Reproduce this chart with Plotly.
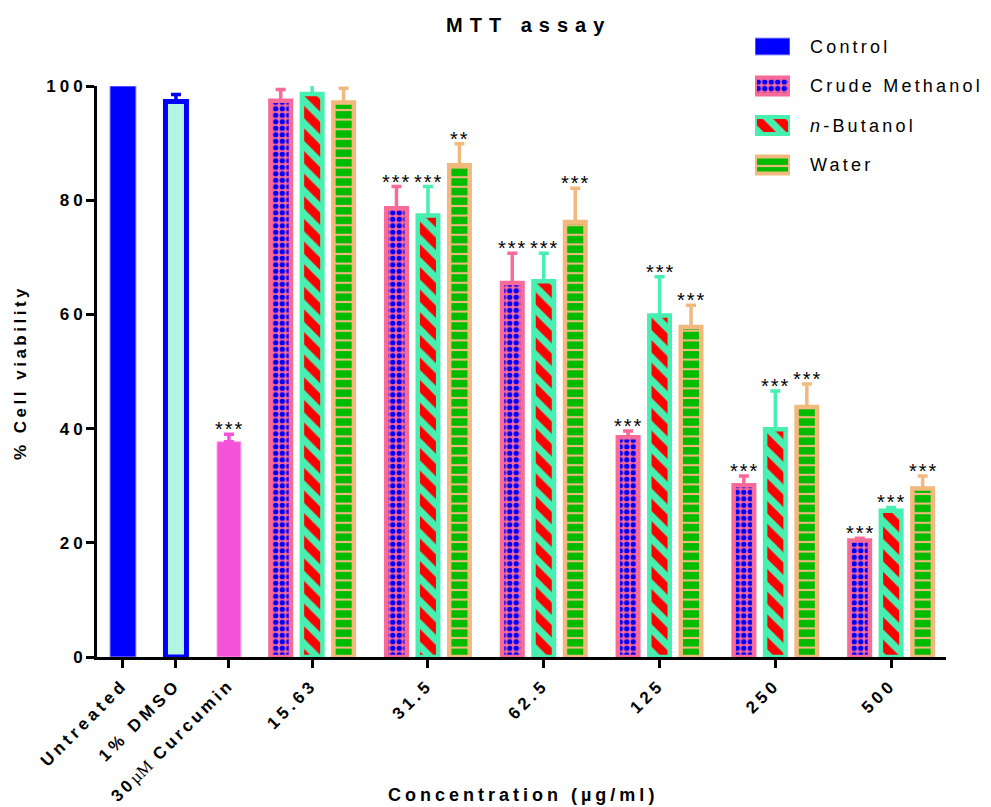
import plotly.graph_objects as go

# ---- data -------------------------------------------------------------
concentrations = ["15.63", "31.5", "62.5", "125", "250", "500"]
reference_labels = ["Untreated", "1% DMSO", "30µM Curcumin"]

untreated = 100.0
dmso, dmso_err = 97.3, 1.2
curcumin, curcumin_err = 37.7, 1.3
curcumin_sig = "***"

crude = [97.4, 78.6, 65.5, 38.5, 30.1, 20.4]
crude_err = [2.0, 3.8, 5.2, 1.1, 1.6, 0.4]
crude_sig = ["", "***", "***", "***", "***", "***"]

butanol = [98.6, 77.3, 65.8, 59.8, 39.9, 25.6]
butanol_err = [1.7, 5.1, 4.9, 6.8, 6.7, 0.6]
butanol_sig = ["", "***", "***", "***", "***", "***"]

water = [97.1, 86.1, 76.2, 57.8, 43.8, 29.5]
water_err = [2.5, 3.8, 5.9, 3.8, 4.0, 2.2]
water_sig = ["", "**", "***", "***", "***", "***"]

legend_names = ["Control", "Crude Methanol", "<i>n</i>-Butanol", "Water"]

# ---- layout helpers ----------------------------------------------------
W, H = 991, 807
ML, MR, MT, MB = 97, 45, 20, 150
PW, PH = W - ML - MR, H - MT - MB
Y_TOP_PX = 86  # pixel row of the 100 % line


def px_x(p):
    return (p - ML) / PW


def px_y(p):
    return (H - MB - p) / PH


FONT = "Liberation Sans, Arial, sans-serif"


def spaced(txt, ls):
    """Letter-spaced text (spacing after every glyph)."""
    return f"<span style='letter-spacing:{ls}px'>{txt}</span>"


def tight_spaced(txt, ls):
    """Letter-spaced text without trailing space after the last glyph."""
    return f"<span style='letter-spacing:{ls}px'>{txt[:-1]}</span>{txt[-1]}"


# category slots (first three single bars, then grouped concentrations)
single_x = [0, 1, 2]
group_x = [3.57 + 2.185 * i for i in range(len(concentrations))]
offset = 0.594
bar_w = 0.387

BLUE = "#0000FF"
MINT = "#B4F5E2"
MAGENTA = "#F452D8"
PINK = "#F86A98"
AQUA = "#47F0B0"
RED = "#FF0000"
TAN = "#F2B97E"
GREEN = "#00BB00"

crude_style = dict(color=PINK, line=dict(color=PINK, width=4.5),
                   pattern=dict(shape=".", fgcolor=BLUE, bgcolor=PINK,
                                size=6.5, solidity=0.52, fillmode="replace"))
butanol_style = dict(color=AQUA, line=dict(color=AQUA, width=4.5),
                     pattern=dict(shape="\\", fgcolor=RED, bgcolor=AQUA,
                                  size=16, solidity=0.55, fillmode="replace"))
water_style = dict(color=GREEN, line=dict(color=TAN, width=4.5),
                   pattern=dict(shape="-", fgcolor=TAN, bgcolor=GREEN,
                                size=9.6, solidity=0.22, fillmode="replace"))


def err(arr, color):
    return dict(type="data", array=arr, arrayminus=[0] * len(arr),
                symmetric=False, color=color, thickness=3.5, width=5)


fig = go.Figure()

# reference bars
fig.add_trace(go.Bar(x=[single_x[0]], y=[untreated], width=0.49,
                     marker=dict(color=BLUE, line=dict(color="#9A9AFF", width=1)),
                     cliponaxis=False, showlegend=False))
fig.add_trace(go.Bar(x=[single_x[1]], y=[dmso], width=0.396,
                     marker=dict(color=MINT, line=dict(color=BLUE, width=5)),
                     error_y=err([dmso_err], BLUE), cliponaxis=False, showlegend=False))
fig.add_trace(go.Bar(x=[single_x[2]], y=[curcumin], width=0.45,
                     marker=dict(color=MAGENTA, line=dict(color="#F8A0E8", width=1)),
                     error_y=err([curcumin_err], MAGENTA), cliponaxis=False, showlegend=False))

# extract bars
series = [
    (crude, crude_err, crude_sig, -offset, crude_style, PINK),
    (butanol, butanol_err, butanol_sig, 0.0, butanol_style, AQUA),
    (water, water_err, water_sig, offset, water_style, TAN),
]
for vals, errs, _, dx, style, ecol in series:
    fig.add_trace(go.Bar(x=[g + dx for g in group_x], y=vals, width=bar_w,
                         marker=style, error_y=err(errs, ecol),
                         cliponaxis=False, showlegend=False))

# legend swatches drawn on an inset axis
legend_styles = [
    dict(color=BLUE, line=dict(color="#9A9AFF", width=1)),
    dict(crude_style, line=dict(color=PINK, width=4)),
    dict(butanol_style, line=dict(color=AQUA, width=4)),
    dict(water_style, line=dict(color=TAN, width=4)),
]
for k, st in enumerate(legend_styles):
    fig.add_trace(go.Bar(x=[1], y=[k], base=0, orientation="h", width=0.43,
                         marker=st, xaxis="x2", yaxis="y2",
                         showlegend=False, hoverinfo="skip"))

annotations = []

# significance stars
star_font = dict(family=FONT, size=20, color="black")


def add_star(x, top, txt):
    if txt:
        annotations.append(dict(x=x, y=top, xref="x", yref="y", text=tight_spaced(txt, 2),
                                showarrow=False, yanchor="bottom", xanchor="center",
                                yshift=-8, font=star_font))


add_star(single_x[2], curcumin + curcumin_err, curcumin_sig)
for vals, errs, sigs, dx, _, _ in series:
    for g, v, e, s in zip(group_x, vals, errs, sigs):
        add_star(g + dx, v + e, s)

# legend labels
for k, name in enumerate(legend_names):
    annotations.append(dict(x=px_x(808), y=k, xref="paper", yref="y2",
                            text=tight_spaced(name, 3.2), showarrow=False,
                            xanchor="left", yanchor="middle",
                            font=dict(family=FONT, size=18, color="black")))

# titles
annotations.append(dict(x=px_x(525), y=px_y(25), xref="paper", yref="paper",
                        text=tight_spaced("MTT assay", 7), showarrow=False,
                        xanchor="center", yanchor="middle",
                        font=dict(family=FONT, size=20, color="black", weight="bold")))
annotations.append(dict(x=px_x(521), y=px_y(795), xref="paper", yref="paper",
                        text=tight_spaced("Concentration (µg/ml)", 4), showarrow=False,
                        xanchor="center", yanchor="middle",
                        font=dict(family=FONT, size=18, color="black", weight="bold")))
annotations.append(dict(x=px_x(20), y=px_y(374), xref="paper", yref="paper",
                        text=tight_spaced("% Cell viability", 3.5), showarrow=False,
                        textangle=-90, xanchor="center", yanchor="middle",
                        font=dict(family=FONT, size=17, color="black", weight="bold")))

# tick labels
x_ticktext = [
    spaced("Untreated", 4),
    spaced("1% DMSO", 4),
    spaced("30", 3.4) + "<span style='font-family:Liberation Serif, serif;font-weight:normal'>µM</span>"
    + spaced(" Curcumin", 3.4),
] + [spaced(c, 4) for c in concentrations]
y_tickvals = [0, 20, 40, 60, 80, 100]
y_ticktext = [str(v) if len(str(v)) == 1 else tight_spaced(str(v), 4) for v in y_tickvals]

fig.update_layout(
    width=W, height=H,
    margin=dict(l=ML, r=MR, t=MT, b=MB),
    paper_bgcolor="white", plot_bgcolor="white",
    barmode="overlay",
    showlegend=False,
    hovermode=False,
    annotations=annotations,
    xaxis=dict(
        range=[-0.49, 15.53], tickmode="array", automargin=False,
        tickvals=single_x + group_x, ticktext=x_ticktext, tickangle=-45,
        ticks="outside", ticklen=8, tickwidth=3, tickcolor="black",
        showline=True, linewidth=3, linecolor="black",
        showgrid=False, zeroline=False,
        tickfont=dict(family=FONT, size=17, color="black", weight="bold"),
    ),
    yaxis=dict(
        range=[0, 100], domain=[0, px_y(Y_TOP_PX)], automargin=False,
        tickmode="array", tickvals=y_tickvals, ticktext=y_ticktext,
        ticks="outside", ticklen=8, tickwidth=3, tickcolor="black",
        showline=True, linewidth=3, linecolor="black",
        showgrid=False, zeroline=False,
        tickfont=dict(family=FONT, size=17, color="black", weight="bold"),
    ),
    xaxis2=dict(domain=[px_x(755), px_x(790)], range=[0, 1], anchor="y2",
                visible=False, fixedrange=True),
    yaxis2=dict(domain=[px_y(184.75), px_y(26.75)], range=[3.5, -0.5], anchor="x2",
                visible=False, fixedrange=True),
)

fig.write_html("out.html")
